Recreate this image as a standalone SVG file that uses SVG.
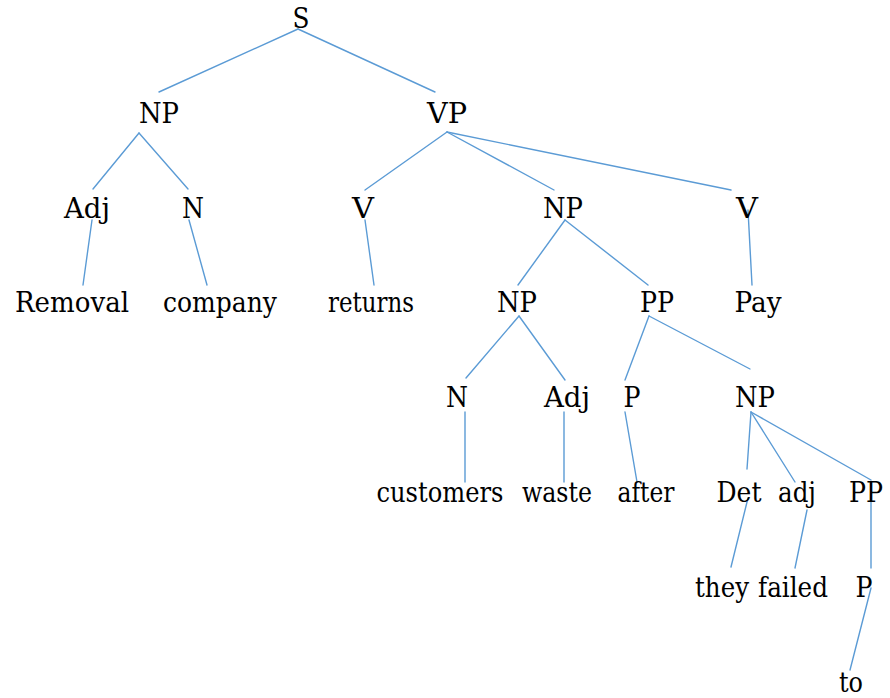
<svg xmlns="http://www.w3.org/2000/svg" width="890" height="698" viewBox="0 0 890 698">
  <style>
    text { font-family: 'DejaVu Serif', 'Liberation Serif', serif; font-size: 28px; fill: #000; text-anchor: middle; }
    line { stroke: #5b9bd5; stroke-width: 1.4; fill: none; stroke-linecap: round; }
  </style>
  <rect width="890" height="698" fill="#fff"/>

  <!-- branches of the parse tree -->
  <g id="connectors">
    <line x1="298" y1="29" x2="159" y2="92"/>
    <line x1="298" y1="29" x2="435" y2="92"/>
    <line x1="139" y1="133" x2="93" y2="189"/>
    <line x1="139" y1="133" x2="188" y2="189"/>
    <line x1="447" y1="132" x2="365" y2="190"/>
    <line x1="447" y1="132" x2="554" y2="190"/>
    <line x1="447" y1="132" x2="731" y2="190"/>
    <line x1="92" y1="220" x2="83" y2="285"/>
    <line x1="189" y1="220" x2="207" y2="285"/>
    <line x1="365" y1="220" x2="374" y2="285"/>
    <line x1="565" y1="220" x2="518" y2="285"/>
    <line x1="565" y1="220" x2="648" y2="285"/>
    <line x1="748" y1="210" x2="752" y2="285"/>
    <line x1="519" y1="316" x2="466" y2="378"/>
    <line x1="519" y1="316" x2="565" y2="380"/>
    <line x1="649" y1="316" x2="625" y2="380"/>
    <line x1="649" y1="316" x2="750" y2="369"/>
    <line x1="465" y1="412" x2="465" y2="482"/>
    <line x1="564" y1="412" x2="564" y2="482"/>
    <line x1="625" y1="412" x2="637" y2="482"/>
    <line x1="751" y1="412" x2="747" y2="469"/>
    <line x1="751" y1="412" x2="795" y2="482"/>
    <line x1="751" y1="412" x2="871" y2="480"/>
    <line x1="748" y1="498" x2="731" y2="567"/>
    <line x1="807" y1="510" x2="795" y2="568"/>
    <line x1="871" y1="498" x2="871" y2="568"/>
    <line x1="871" y1="588" x2="850" y2="670"/>
  </g>

  <!-- labels, each fitted to its set width -->
  <g id="n-s"><text x="301" y="28" textLength="17" lengthAdjust="spacingAndGlyphs">S</text></g>
  <g id="n-np1"><text x="159" y="123" textLength="40" lengthAdjust="spacingAndGlyphs">NP</text></g>
  <g id="n-vp"><text x="447" y="123" textLength="40" lengthAdjust="spacingAndGlyphs">VP</text></g>

  <g id="n-adj1"><text x="87" y="218" textLength="46" lengthAdjust="spacingAndGlyphs">Adj</text></g>
  <g id="n-n1"><text x="193" y="218" textLength="22" lengthAdjust="spacingAndGlyphs">N</text></g>
  <g id="n-v1"><text x="363" y="218" textLength="22" lengthAdjust="spacingAndGlyphs">V</text></g>
  <g id="n-np2"><text x="563" y="218" textLength="40" lengthAdjust="spacingAndGlyphs">NP</text></g>
  <g id="n-v2"><text x="747" y="218" textLength="22" lengthAdjust="spacingAndGlyphs">V</text></g>

  <g id="w-removal"><text x="72" y="312" textLength="114" lengthAdjust="spacingAndGlyphs">Removal</text></g>
  <g id="w-company"><text x="220" y="312" textLength="114" lengthAdjust="spacingAndGlyphs">company</text></g>
  <g id="w-returns"><text x="371" y="312" textLength="86" lengthAdjust="spacingAndGlyphs">returns</text></g>
  <g id="n-np3"><text x="517" y="312" textLength="40" lengthAdjust="spacingAndGlyphs">NP</text></g>
  <g id="n-pp1"><text x="657" y="312" textLength="34" lengthAdjust="spacingAndGlyphs">PP</text></g>
  <g id="w-pay"><text x="758" y="312" textLength="47" lengthAdjust="spacingAndGlyphs">Pay</text></g>

  <g id="n-n2"><text x="457" y="407" textLength="22" lengthAdjust="spacingAndGlyphs">N</text></g>
  <g id="n-adj2"><text x="567" y="407" textLength="46" lengthAdjust="spacingAndGlyphs">Adj</text></g>
  <g id="n-p1"><text x="632" y="407" textLength="17" lengthAdjust="spacingAndGlyphs">P</text></g>
  <g id="n-np4"><text x="755" y="407" textLength="40" lengthAdjust="spacingAndGlyphs">NP</text></g>

  <g id="w-customers"><text x="440" y="502" textLength="127" lengthAdjust="spacingAndGlyphs">customers</text></g>
  <g id="w-waste"><text x="557" y="502" textLength="70" lengthAdjust="spacingAndGlyphs">waste</text></g>
  <g id="w-after"><text x="646" y="502" textLength="57" lengthAdjust="spacingAndGlyphs">after</text></g>
  <g id="n-det"><text x="739" y="502" textLength="45" lengthAdjust="spacingAndGlyphs">Det</text></g>
  <g id="n-adj3"><text x="797" y="502" textLength="38" lengthAdjust="spacingAndGlyphs">adj</text></g>
  <g id="n-pp2"><text x="866" y="502" textLength="34" lengthAdjust="spacingAndGlyphs">PP</text></g>

  <g id="w-they"><text x="722" y="597" textLength="54" lengthAdjust="spacingAndGlyphs">they</text></g>
  <g id="w-failed"><text x="793" y="597" textLength="70" lengthAdjust="spacingAndGlyphs">failed</text></g>
  <g id="n-p2"><text x="864" y="597" textLength="17" lengthAdjust="spacingAndGlyphs">P</text></g>

  <g id="w-to"><text x="851" y="692" textLength="24" lengthAdjust="spacingAndGlyphs">to</text></g>
</svg>
